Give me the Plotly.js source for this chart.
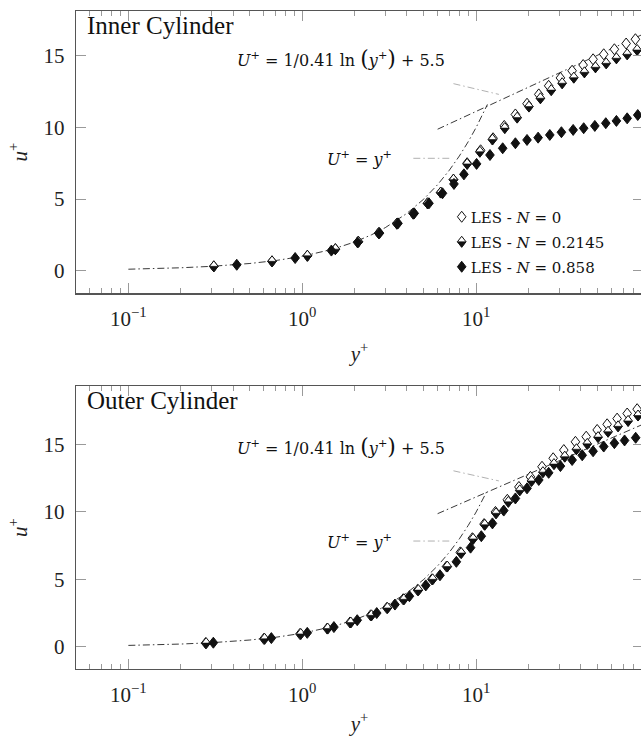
<!DOCTYPE html>
<html><head><meta charset="utf-8">
<script src="https://cdn.plot.ly/plotly-3.0.1.min.js"></script>
<style>html,body{margin:0;padding:0;overflow:hidden;background:#fff;}#chart{width:660px;height:736px;}</style>
</head><body><div id="chart"></div>
<script>
// ---------- data ----------
const seriesNames = ['LES - <i>N</i> = 0', 'LES - <i>N</i> = 0.2145', 'LES - <i>N</i> = 0.858'];
const panelTitles = ['Inner Cylinder', 'Outer Cylinder'];
const xTickVals = [0.1, 1, 10];
const xTickText = ['10<sup>\u22121</sup>', '10<sup>0</sup>', '10<sup>1</sup>'];
const xMinorVals = [0.06,0.07,0.08,0.09,0.2,0.3,0.4,0.5,0.6,0.7,0.8,0.9,2,3,4,5,6,7,8,9,20,30,40,50,60,70,80,90];
const yTickVals = [0, 5, 10, 15];

// law of the wall
const viscousX = [0.1,0.15,0.2,0.3,0.4,0.5,0.7,1,1.5,2,2.5,3,4,5,6,7,8,9,10,11.6];
const viscousY = [0.1,0.15,0.2,0.3,0.4,0.5,0.7,1,1.5,2,2.5,3,4,5,6,7,8,9,10,11.6];
const logLawX = [6, 100];
const logLawY = [9.87, 16.73];
const pinLogX = [7.4, 13.5];
const pinLogY = [13.05, 12.3];
const pinLinX = [4.35, 7.0];
const pinLinY = [7.84, 7.84];

// Inner cylinder
const innerOpenX = [0.31,0.67,1.07,1.55,2.1,2.75,3.5,4.35,5.25,6.25,7.4,8.87,10.6,12.5,14.5,16.8,19.6,22.9,26.1,30.5,35.6,41.2,47,54.1,62.3,72.8,82.3];
const innerOpenY = [0.3,0.65,1.04,1.5,2.02,2.62,3.28,3.98,4.7,5.45,6.35,7.5,8.4,9.24,10.1,10.9,11.65,12.3,12.9,13.45,13.95,14.35,14.75,15.1,15.45,15.85,16.15];
const innerHalfX = [0.31,0.67,1.07,1.55,2.1,2.75,3.5,4.35,5.25,6.25,7.4,8.87,10.5,12.4,14.6,17.2,20.1,23.4,27,31.2,36.4,41.9,48.5,55.9,64,73.8,84.2];
const innerHalfY = [0.3,0.65,1.04,1.5,2.02,2.62,3.28,3.98,4.7,5.45,6.35,7.45,8.3,9.15,9.95,10.68,11.45,12.03,12.6,13.08,13.47,13.84,14.19,14.47,14.82,15.1,15.4];
const innerFilledX = [0.42,0.91,1.47,2.08,2.78,3.55,4.4,5.35,6.4,7.45,8.5,10.05,12.0,14.2,16.8,19.6,22.7,26.5,30.9,36.1,41.5,48.1,55.6,64,73.8,84.9];
const innerFilledY = [0.41,0.88,1.4,1.97,2.62,3.3,4.0,4.7,5.4,6.05,6.72,7.45,8.07,8.54,8.89,9.12,9.28,9.47,9.66,9.82,9.94,10.1,10.29,10.45,10.63,10.86];

// Outer cylinder
const outerOpenX = [0.278,0.601,0.969,1.39,1.88,2.47,3.06,3.8,4.6,5.56,6.75,8.1,9.5,11.1,12.9,15.1,17.6,20.5,23.9,27.7,31.9,37.2,42.9,49.6,56.6,64.6,73.8,84.2];
const outerOpenY = [0.27,0.59,0.95,1.35,1.8,2.33,2.88,3.52,4.2,5.0,5.95,7.0,8.05,9.1,10.0,10.9,11.85,12.6,13.35,13.98,14.59,15.2,15.58,16.08,16.5,16.92,17.3,17.62];
const outerHalfX = [0.28,0.607,0.98,1.40,1.90,2.5,3.09,3.84,4.65,5.62,6.82,8.2,9.6,11.2,13.0,15.3,17.8,20.8,24.2,28.0,32.3,37.7,43.5,50.2,57.3,65.4,74.7,85.2];
const outerHalfY = [0.27,0.59,0.95,1.35,1.8,2.33,2.88,3.52,4.2,5.0,5.95,6.95,8.0,9.05,9.9,10.75,11.6,12.3,12.95,13.55,14.1,14.65,15.05,15.55,15.95,16.35,16.75,17.15];
const outerFilledX = [0.308,0.664,1.068,1.52,2.07,2.68,3.41,4.13,5.13,6.19,7.69,9.28,10.7,12.4,14.4,16.8,19.6,22.9,26.1,30.5,35.6,40.7,47,54.1,62.3,71.3,82.6];
const outerFilledY = [0.3,0.64,1.03,1.46,1.97,2.5,3.13,3.75,4.55,5.3,6.3,7.35,8.2,9.15,10.1,11.0,11.75,12.37,12.9,13.4,13.85,14.2,14.5,14.85,15.1,15.3,15.5];

// ---------- build ----------
const SERIF = 'Liberation Serif, Times New Roman, serif';
const WIDE = 'DejaVu Serif, serif';
const INK = '#111';
function lineTrace(x, y, xa, ya, color, width, dash) {
  return {x, y, xaxis: xa, yaxis: ya, mode: 'lines', showlegend: false, hoverinfo: 'skip',
          line: {color, width, dash}};
}
function markTrace(x, y, xa, ya, kind, name, showlegend) {
  const filled = kind === 'filled';
  return {x, y, xaxis: xa, yaxis: ya, mode: 'markers', name, showlegend, meta: kind, legendgroup: kind,
          marker: {symbol: 'diamond-tall', size: 8, color: filled ? INK : '#fff',
                   line: {color: INK, width: 1}}};
}
const DD = '7px,3px,1.5px,3px';
const traces = [];
const panels = [
  {xa: 'x', ya: 'y', open: [innerOpenX, innerOpenY], half: [innerHalfX, innerHalfY], filled: [innerFilledX, innerFilledY], legend: true},
  {xa: 'x2', ya: 'y2', open: [outerOpenX, outerOpenY], half: [outerHalfX, outerHalfY], filled: [outerFilledX, outerFilledY], legend: false}
];
panels.forEach(p => {
  traces.push(lineTrace(pinLogX, pinLogY, p.xa, p.ya, '#a8a8a8', 0.9, DD));
  traces.push(lineTrace(pinLinX, pinLinY, p.xa, p.ya, '#a8a8a8', 0.9, DD));
  traces.push(lineTrace(viscousX, viscousY, p.xa, p.ya, '#222', 0.9, DD));
  traces.push(lineTrace(logLawX, logLawY, p.xa, p.ya, '#222', 0.9, DD));
  traces.push(markTrace(p.open[0], p.open[1], p.xa, p.ya, 'open', seriesNames[0], p.legend));
  traces.push(markTrace(p.half[0], p.half[1], p.xa, p.ya, 'half', seriesNames[1], p.legend));
  traces.push(markTrace(p.filled[0], p.filled[1], p.xa, p.ya, 'filled', seriesNames[2], p.legend));
});

function xAxis(anchor) {
  return {type: 'log', anchor, domain: [0, 1], range: [Math.log10(0.05), Math.log10(91)],
    tickmode: 'array', tickvals: xTickVals, ticktext: xTickText,
    ticks: 'inside', ticklen: 10, tickwidth: 1, tickcolor: '#9a9a9a',
    minor: {tickmode: 'array', tickvals: xMinorVals, ticks: 'inside', ticklen: 5, tickwidth: 1, tickcolor: '#9a9a9a'},
    showline: true, linecolor: '#555', linewidth: 1.3, mirror: 'ticks',
    showgrid: false, zeroline: false, ticklabelstandoff: 6,
    tickfont: {family: SERIF, size: 21, color: '#222'},
    title: {text: '<i>y</i><sup>+</sup>', font: {family: SERIF, size: 21, color: '#222'}, standoff: 16}};
}
function yAxis(anchor, domain, range) {
  return {anchor, domain, range, tickmode: 'array', tickvals: yTickVals,
    ticks: 'inside', ticklen: 10, tickwidth: 1, tickcolor: '#9a9a9a',
    showline: true, linecolor: '#555', linewidth: 1.3, mirror: 'ticks',
    showgrid: false, zeroline: false, ticklabelstandoff: 6,
    tickfont: {family: SERIF, size: 21, color: '#222'},
    title: {text: '<i>u</i><sup>+</sup>', font: {family: SERIF, size: 21, color: '#222'}, standoff: 10}};
}
const formula = '<i>U</i><sup>+</sup> = 1/0.41 ln <span style="font-size:22px">(</span><i>y</i><sup>+</sup><span style="font-size:22px">)</span> + 5.5';
const linText = '<i>U</i><sup>+</sup> = <i>y</i><sup>+</sup>';
const annotations = [];
[['x', 'y', 0], ['x2', 'y2', 1]].forEach(([xa, ya, i]) => {
  annotations.push({xref: xa + ' domain', yref: ya + ' domain', x: 0.016, y: 0.948, xanchor: 'left', yanchor: 'middle',
    text: panelTitles[i], showarrow: false, font: {family: SERIF, size: 25, color: INK}});
  annotations.push({xref: xa, yref: ya, x: Math.log10(1.68), y: 14.84, xanchor: 'center', yanchor: 'middle',
    text: formula, showarrow: false, font: {family: WIDE, size: 16, color: INK}});
  annotations.push({xref: xa, yref: ya, x: Math.log10(2.14), y: 7.84, xanchor: 'center', yanchor: 'middle',
    text: linText, showarrow: false, font: {family: WIDE, size: 16, color: INK}});
});

const layout = {
  width: 660, height: 736, margin: {l: 76, r: 17, t: 11, b: 67},
  paper_bgcolor: '#fff', plot_bgcolor: '#fff', font: {family: SERIF, color: INK},
  xaxis: xAxis('y'), yaxis: yAxis('x', [0.571, 1], [-1.58, 18.12]),
  xaxis2: xAxis('y2'), yaxis2: yAxis('x2', [0, 0.4301], [-1.65, 19.34]),
  showlegend: true,
  legend: {x: 0.645, y: 0.712, xanchor: 'left', yanchor: 'top', bgcolor: 'rgba(0,0,0,0)', borderwidth: 0,
           font: {family: WIDE, size: 15, color: INK}, itemwidth: 30, tracegroupgap: 2.5},
  annotations
};

function decorate(gd) {
  const H = 5.5, W = 4.3;
  const shape = `M0,-${H}L${W},0L0,${H}L-${W},0Z`;
  const lower = `M-${W},0L${W},0L0,${H}Z`;
  const NS = 'http://www.w3.org/2000/svg';
  function fix(p, kind) {
    p.setAttribute('d', shape);
    if (kind === 'half') {
      const q = document.createElementNS(NS, 'path');
      q.setAttribute('d', lower);
      const tf = p.getAttribute('transform');
      if (tf) q.setAttribute('transform', tf);
      q.setAttribute('style', 'fill:#111;stroke:#111;stroke-width:0.6;');
      p.parentNode.insertBefore(q, p.nextSibling);
    }
  }
  gd.querySelectorAll('.scatterlayer .trace').forEach(g => {
    const cd = g.__data__; const tr = cd && cd[0] && cd[0].trace;
    if (!tr || !tr.meta) return;
    g.querySelectorAll('path.point').forEach(p => fix(p, tr.meta));
  });
  gd.querySelectorAll('.legend .traces').forEach(g => {
    const d = g.__data__; const tr = d && d[0] && d[0].trace;
    if (!tr || !tr.meta) return;
    g.querySelectorAll('path.scatterpts').forEach(p => fix(p, tr.meta));
    const t = g.querySelector('text.legendtext');
    if (t) t.setAttribute('x', parseFloat(t.getAttribute('x') || 40) - 11);
  });
}
Plotly.newPlot('chart', traces, layout, {staticPlot: true, displayModeBar: false}).then(decorate);
</script></body></html>
